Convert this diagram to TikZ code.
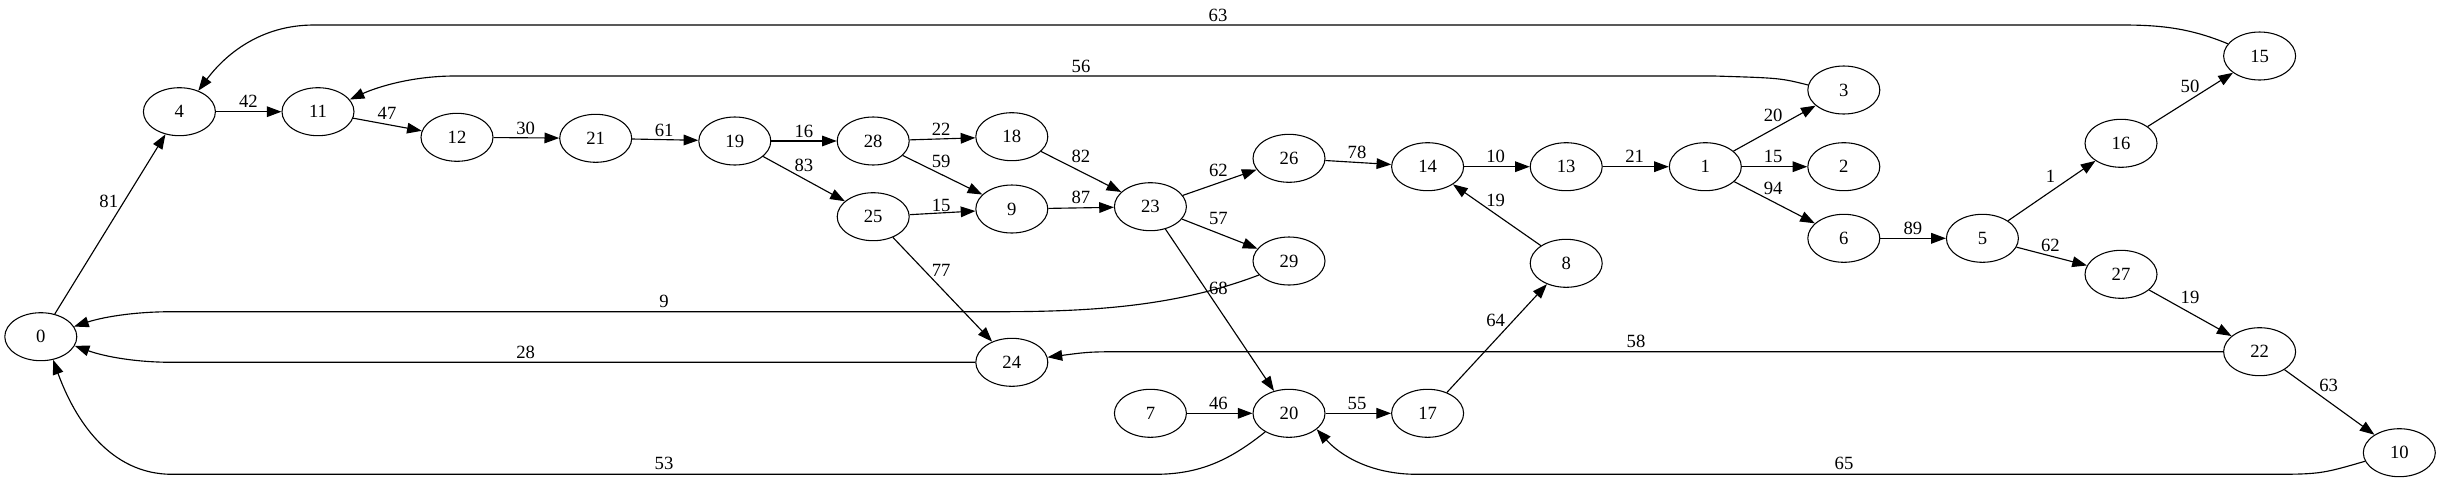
\documentclass[tikz,border=0pt]{standalone}
\usepackage{fontspec}
\setmainfont{Liberation Serif}
\usepackage{tikz}
\usetikzlibrary{arrows.meta,shapes.geometric}

\begin{document}
\begin{tikzpicture}[x=0.75pt, y=-0.75pt,
    state/.style={draw, ellipse, line width=0.8pt, minimum width=54pt,
      minimum height=36pt, inner sep=0pt, font=\fontsize{14}{16}\selectfont},
    link/.style={line width=0.85pt, -{Triangle[length=11pt, width=8pt]}},
    wlabel/.style={inner sep=0pt, font=\fontsize{14}{16}\selectfont}]
    \useasboundingbox (0,0) rectangle (2440,483);

    % Vertices
    \foreach \n/\x/\y in {0/40.8/336.7, 4/179.4/111.7, 11/318/111.7,
        12/457/137.3, 21/595.7/138.3, 19/734.8/141, 28/873.2/141,
        18/1011.8/136.7, 25/873.2/216.7, 9/1011.8/209, 23/1150.4/206.7,
        26/1289/158.3, 14/1427.6/166.7, 13/1566.2/166.7, 29/1289/261,
        8/1566.2/263.3, 24/1011.8/362.3, 7/1150.4/413.3, 20/1289/413.3,
        17/1427.6/413.3, 1/1705.3/166.7, 3/1843.8/90, 2/1843.8/166.7,
        6/1843.8/238.3, 5/1982.4/238.3, 16/2121/143.3, 15/2259.6/56,
        27/2121/274.3, 22/2259.6/351.7, 10/2399.3/452.7}
      \node[state] (n\n) at (\x,\y) {\n};

    % Straight weighted edges
    \foreach \a/\b/\w/\lx/\ly in {0/4/81/108.8/201.7, 4/11/42/248.4/101.7,
        11/12/47/387/113.3, 12/21/30/525.6/128.3, 21/19/61/664.2/130,
        19/28/16/803.9/131, 19/25/83/803.9/165, 28/18/22/941.2/129.3,
        28/9/59/941.2/161, 25/9/15/941.2/205, 18/23/82/1080.9/156.7,
        9/23/87/1080.9/197.7, 23/26/62/1218.4/170, 23/29/57/1218.4/218.3,
        25/24/77/941.2/270, 23/20/68/1218.4/288.3, 26/14/78/1357/152.3,
        14/13/10/1495.6/156, 8/14/19/1495.6/200, 17/8/64/1495.6/320.7,
        7/20/46/1218.4/403.3, 20/17/55/1357/403.3, 13/1/21/1634.6/156.7,
        1/3/20/1773.2/115, 1/2/15/1773.2/156, 1/6/94/1773.2/188.3,
        6/5/89/1912.9/228.3, 5/16/1/2050.4/176.7, 5/27/62/2050.4/245,
        16/15/50/2190/86, 27/22/19/2190/297.7, 22/10/63/2328.7/385}
      \draw[link] (n\a) -- (n\b) node[wlabel] at (\lx,\ly) {\w};

    % Long back edges
    \draw[link] (n15.159) .. controls (2190,28) and (2160,25) .. (2122,25)
      -- (314,25) .. controls (260,25) and (225,55) .. (n4.48)
      node[wlabel] at (1218,15) {63};
    \draw[link] (n3.172) .. controls (1780,78) .. (1714,76)
      -- (455,76) .. controls (410,76) and (375,88) .. (n11.21)
      node[wlabel] at (1081,66) {56};
    \draw[link] (n29.205) .. controls (1180,305) and (1100,311.7) .. (1000,311.7)
      -- (172.6,311.7) .. controls (130,311.7) and (100,318) .. (n0.17)
      node[wlabel] at (664,301.7) {9};
    \draw[link] (n24.west) -- (172.6,362.3)
      .. controls (130,362.3) and (100,355) .. (n0.-15)
      node[wlabel] at (525.6,352.3) {28};
    \draw[link] (n20.218) .. controls (1230,460) and (1200,474.3) .. (1155,474.3)
      -- (172,474.3) .. controls (110,474.3) and (75,420) .. (n0.-62)
      node[wlabel] at (664,463.3) {53};
    \draw[link] (n22.west) -- (1135,351.7) .. controls (1090,351.7) .. (n24.8)
      node[wlabel] at (1636,341.7) {58};
    \draw[link] (n10.194) .. controls (2320,474.3) .. (2263,474.3)
      -- (1417,474.3) .. controls (1370,474.3) and (1340,455) .. (n20.-30)
      node[wlabel] at (1844,463.3) {65};
\end{tikzpicture}
\end{document}
